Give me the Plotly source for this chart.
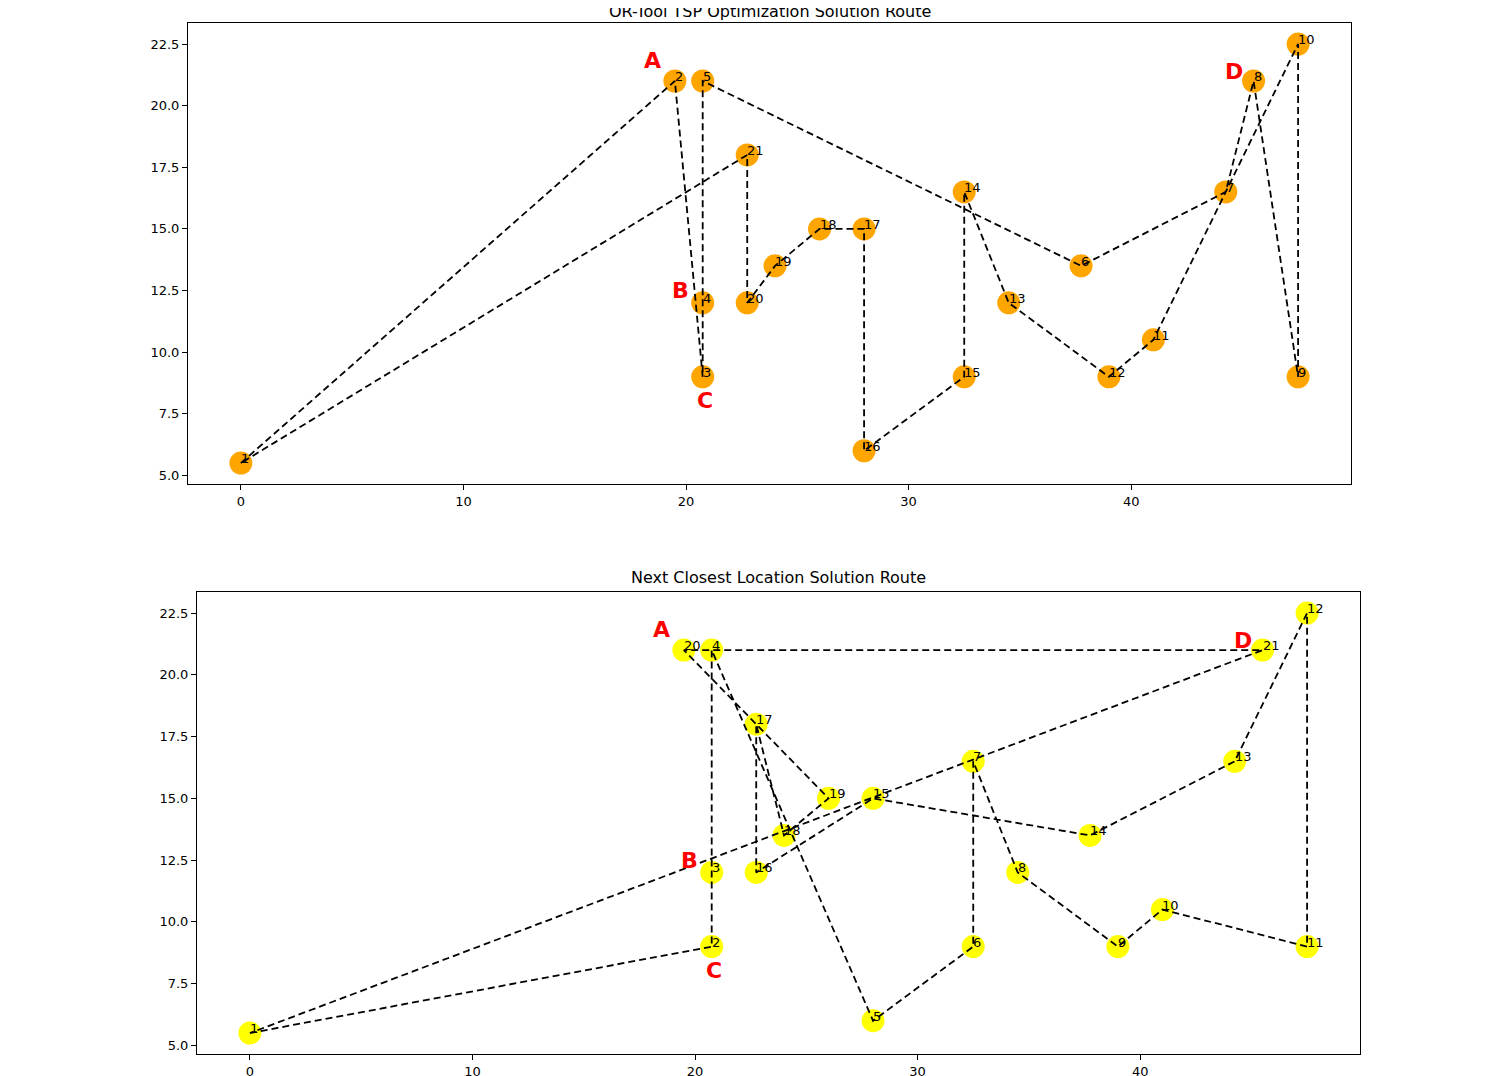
import plotly.graph_objs as go

# locations, listed in the OR-Tools visiting order
loc_x = [0, 19.5, 20.75, 20.75, 20.75, 37.75, 44.25, 45.5, 47.5, 47.5, 41,
         39, 34.5, 32.5, 32.5, 28, 28, 26, 24, 22.75, 22.75]
loc_y = [5.5, 21, 9, 12, 21, 13.5, 16.5, 21, 9, 22.5, 10.5,
         9, 12, 16.5, 9, 6, 15, 15, 13.5, 12, 18]

ortools_route = list(range(21))
nearest_route = [0, 2, 3, 4, 15, 14, 13, 12, 11, 10, 8, 9, 6, 5, 16, 19, 20, 18, 17, 1, 7]

# red marker letters: location index and offset of the letter
letters = ['A', 'B', 'C', 'D']
letter_loc = [1, 3, 2, 7]
letter_dx = [-1.0, -1.0, 0.1, -0.9]
letter_dy = [0.85, 0.5, -0.95, 0.4]

titles = ['OR-Tool TSP Optimization Solution Route', 'Next Closest Location Solution Route']
colors = ['orange', 'yellow']
routes = [ortools_route, nearest_route]

FONT = 'DejaVu Sans'

fig = go.Figure()
annotations = []

for k, route in enumerate(routes):
    xa = 'x' if k == 0 else 'x2'
    ya = 'y' if k == 0 else 'y2'
    xs = [loc_x[i] for i in route] + [loc_x[route[0]]]
    ys = [loc_y[i] for i in route] + [loc_y[route[0]]]

    fig.add_trace(go.Scatter(x=xs[:-1], y=ys[:-1], mode='markers', xaxis=xa, yaxis=ya,
                             marker=dict(color=colors[k], size=23, line=dict(width=0)),
                             showlegend=False, hoverinfo='skip'))
    fig.add_trace(go.Scatter(x=xs, y=ys, mode='lines', xaxis=xa, yaxis=ya,
                             line=dict(color='black', width=1.8, dash='7px,4px'),
                             showlegend=False, hoverinfo='skip'))

    # stop numbers
    for n, i in enumerate(route):
        annotations.append(dict(x=loc_x[i], y=loc_y[i], xref=xa, yref=ya, text=str(n + 1),
                                showarrow=False, xanchor='left', yanchor='bottom',
                                xshift=-2, yshift=-5,
                                font=dict(family=FONT, size=13, color='black')))

    for t, li, dx, dy in zip(letters, letter_loc, letter_dx, letter_dy):
        annotations.append(dict(x=loc_x[li] + dx, y=loc_y[li] + dy, xref=xa, yref=ya, text='<b>' + t + '</b>',
                                showarrow=False, xanchor='center', yanchor='middle',
                                font=dict(family=FONT, size=22, color='red')))

# subplot titles
annotations.append(dict(x=0.5077, y=0.9860, xref='paper', yref='paper', text=titles[0],
                        showarrow=False, xanchor='center', yanchor='bottom', yshift=0,
                        font=dict(family=FONT, size=16, color='black')))
annotations.append(dict(x=0.5137, y=0.4572, xref='paper', yref='paper', text=titles[1],
                        showarrow=False, xanchor='center', yanchor='bottom', yshift=3,
                        font=dict(family=FONT, size=16, color='black')))

axis_style = dict(showgrid=False, zeroline=False, showline=True, mirror=True,
                  linecolor='black', linewidth=1, ticks='outside', ticklen=5,
                  tickcolor='black', tickfont=dict(family=FONT, size=13, color='black'))

fig.update_layout(
    width=1500, height=1076,
    margin=dict(l=0, r=0, t=0, b=0),
    paper_bgcolor='white', plot_bgcolor='white',
    xaxis=dict(domain=[0.1200, 0.8953], range=[-2.375, 49.875], anchor='y',
               tickvals=[0, 10, 20, 30, 40], **axis_style),
    yaxis=dict(domain=[0.5576, 0.9860], range=[4.65, 23.35], anchor='x',
               tickvals=[5, 7.5, 10, 12.5, 15, 17.5, 20, 22.5], tickformat='.1f', **axis_style),
    xaxis2=dict(domain=[0.1260, 0.9013], range=[-2.375, 49.875], anchor='y2',
                tickvals=[0, 10, 20, 30, 40], **axis_style),
    yaxis2=dict(domain=[0.0278, 0.4572], range=[4.65, 23.35], anchor='x2',
                tickvals=[5, 7.5, 10, 12.5, 15, 17.5, 20, 22.5], tickformat='.1f', **axis_style),
    annotations=annotations,
)

fig.write_html("out.html")
